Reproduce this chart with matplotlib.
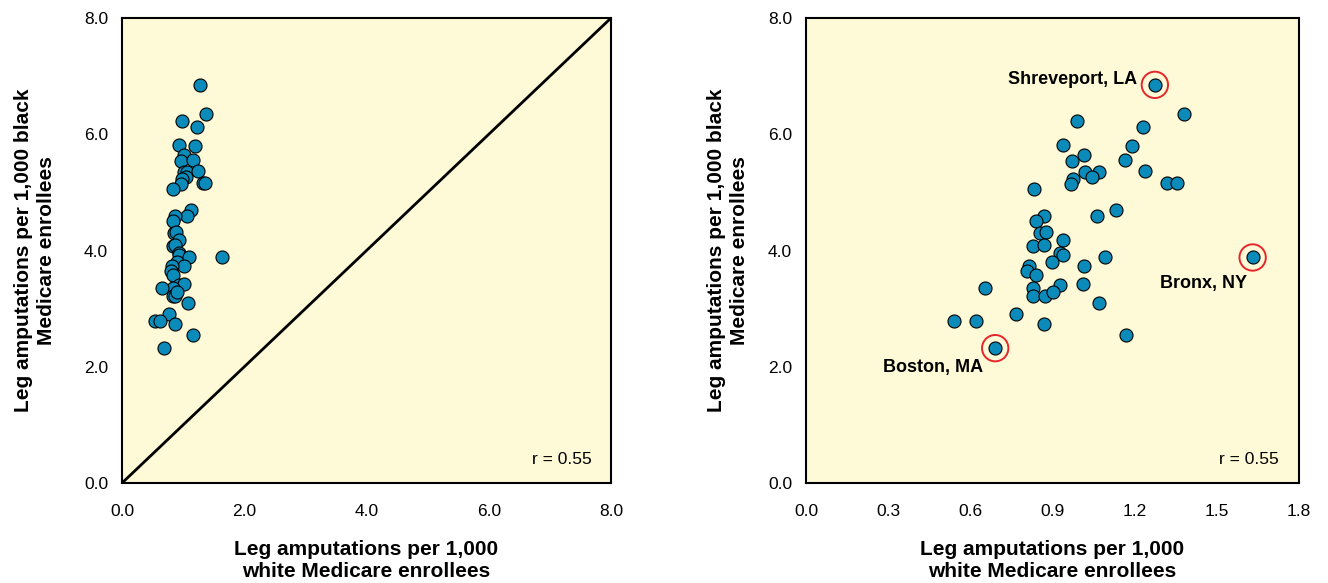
import numpy as np
import matplotlib.pyplot as plt

# hospital referral regions: leg amputations per 1,000 enrollees
white_rate = [1.274, 1.379, 0.988, 1.230, 0.939, 1.190, 1.016, 0.970, 1.166, 1.019,
              1.070, 1.043, 0.974, 0.966, 1.239, 1.318, 1.356, 0.831, 1.131, 1.061,
              0.870, 0.840, 0.854, 0.876, 0.937, 0.829, 0.871, 0.927, 0.937, 1.092,
              1.631, 0.899, 1.016, 0.815, 0.806, 0.841, 0.926, 1.012, 0.830, 0.830,
              0.873, 0.903, 0.655, 1.071, 0.768, 0.540, 0.620, 0.870, 1.168, 0.691]
black_rate = [6.85, 6.35, 6.23, 6.13, 5.82, 5.79, 5.65, 5.54, 5.56, 5.35,
              5.35, 5.27, 5.23, 5.14, 5.37, 5.16, 5.16, 5.05, 4.70, 4.60,
              4.59, 4.51, 4.30, 4.31, 4.18, 4.08, 4.09, 3.95, 3.92, 3.88,
              3.88, 3.81, 3.73, 3.74, 3.65, 3.58, 3.41, 3.42, 3.35, 3.22,
              3.22, 3.28, 3.35, 3.10, 2.90, 2.79, 2.79, 2.74, 2.55, 2.32]

hl_names = ['Shreveport, LA', 'Bronx, NY', 'Boston, MA']
hl_white = [1.274, 1.631, 0.691]
hl_black = [6.85, 3.88, 2.32]

r_value = 0.55
left_ticks = [0, 2, 4, 6, 8]
right_xticks = [0.0, 0.3, 0.6, 0.9, 1.2, 1.5, 1.8]

plt.rcParams['font.family'] = ['Liberation Sans', 'DejaVu Sans']

BG = '#FEF9D6'
DOT = '#0A8BBA'

fig = plt.figure(figsize=(13.28, 5.83), dpi=100)
ax1 = fig.add_axes([0.0919, 0.1715, 0.3682, 0.7976])
ax2 = fig.add_axes([0.6069, 0.1715, 0.3712, 0.7976])

xlab = 'Leg amputations per 1,000\nwhite Medicare enrollees'
ylab = 'Leg amputations per 1,000 black\nMedicare enrollees'

for ax in (ax1, ax2):
    ax.set_facecolor(BG)
    ax.scatter(white_rate, black_rate, s=88, c=DOT, edgecolors='black',
               linewidths=0.8, zorder=3, clip_on=False)
    ax.set_ylim(0, 8)
    ax.set_yticks(left_ticks)
    ax.set_yticklabels(['%.1f' % t for t in left_ticks])
    ax.tick_params(length=0, labelsize=12.5)
    ax.tick_params(axis='y', pad=10)
    ax.tick_params(axis='x', pad=15)
    for sp in ax.spines.values():
        sp.set_linewidth(1.5)
    ax.set_xlabel(xlab, fontsize=15, fontweight='bold', linespacing=1.25)
    ax.set_ylabel(ylab, fontsize=15, fontweight='bold', linespacing=1.25)
    ax.xaxis.set_label_coords(0.5, -0.122)
    ax.text(0.96, 0.034, 'r = %.2f' % r_value, transform=ax.transAxes,
            ha='right', va='bottom', fontsize=12.5)

ax1.yaxis.set_label_coords(-0.135, 0.5)
ax2.yaxis.set_label_coords(-0.116, 0.5)

# left: same 0-8 scale on both axes with equality line
ax1.set_xlim(0, 8)
ax1.set_xticks(left_ticks)
ax1.set_xticklabels(['%.1f' % t for t in left_ticks])
ax1.plot([0, 8], [0, 8], color='black', lw=2, zorder=2)

# right: zoomed x-scale with highlighted regions
ax2.set_xlim(0, 1.8)
ax2.set_xticks(right_xticks)
ax2.set_xticklabels(['%.1f' % t for t in right_xticks])
ax2.scatter(hl_white, hl_black, s=360, facecolors='none', edgecolors='#E5262B',
            linewidths=1.4, zorder=4)
offsets = [(-13, 4), (-4, -19), (-9, -14)]
for name, xw, yb, off in zip(hl_names, hl_white, hl_black, offsets):
    ax2.annotate(name, (xw, yb), xytext=off, textcoords='offset points',
                 ha='right', va='center', fontsize=13, fontweight='bold')

fig.savefig('out.png', dpi=100)
